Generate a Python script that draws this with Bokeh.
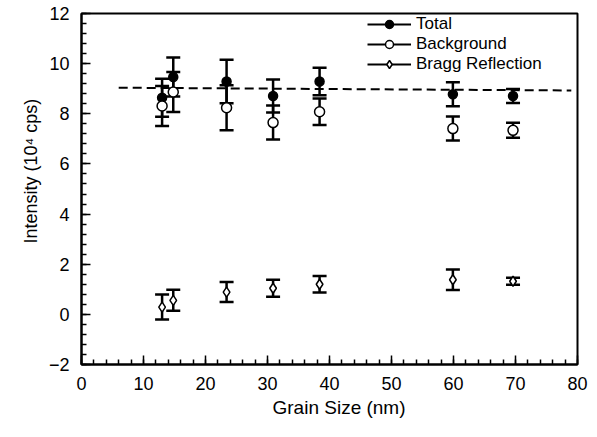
from bokeh.plotting import figure
from bokeh.models import (ColumnDataSource, Whisker, TeeHead, Range1d, SingleIntervalTicker,
                          Legend, LegendItem, Title)
from bokeh.embed import file_html
from bokeh.resources import INLINE

# Grain size (nm) of each sample
grain_size = [13.0, 14.8, 23.4, 30.9, 38.4, 59.9, 69.6]

# Intensities in units of 10^4 cps, with their uncertainties
total = [8.64, 9.47, 9.29, 8.71, 9.29, 8.78, 8.71]
total_err = [0.76, 0.78, 0.87, 0.66, 0.55, 0.48, 0.28]

background = [8.31, 8.87, 8.24, 7.65, 8.08, 7.41, 7.34]
background_err = [0.80, 0.80, 0.90, 0.68, 0.53, 0.48, 0.30]

bragg = [0.29, 0.56, 0.89, 1.04, 1.20, 1.38, 1.32]
bragg_err = [0.50, 0.42, 0.40, 0.34, 0.33, 0.41, 0.14]

# Dashed guide through the total intensity
fit_x = [6.0, 79.0]
fit_y = [9.04, 8.93]

FONT = "Liberation Sans"
NAN = float("nan")

p = figure(width=597, height=437, output_backend="svg", toolbar_location=None,
           x_range=Range1d(0, 80), y_range=Range1d(-2, 12),
           min_border_left=81, min_border_right=20, min_border_top=13, min_border_bottom=73)
p.xgrid.visible = False
p.ygrid.visible = False
p.outline_line_color = "black"
p.outline_line_width = 2
p.background_fill_color = "white"
p.border_fill_color = "white"

p.xaxis.ticker = SingleIntervalTicker(interval=10, num_minor_ticks=5)
p.yaxis.ticker = SingleIntervalTicker(interval=2, num_minor_ticks=5)
for ax in (p.xaxis[0], p.yaxis[0]):
    ax.axis_line_width = 2
    ax.axis_line_color = "black"
    ax.major_tick_in = 9
    ax.major_tick_out = 0
    ax.minor_tick_in = 5
    ax.minor_tick_out = 0
    ax.major_tick_line_width = 1.5
    ax.minor_tick_line_width = 1.5
    ax.major_label_text_font = FONT
    ax.major_label_text_font_size = "18px"
    ax.major_label_text_color = "black"
p.yaxis.major_label_standoff = 12
p.xaxis.major_label_standoff = 12

# axis titles, placed by an offset from the start of their side panels
p.add_layout(Title(text="Intensity (10\u2074 cps)", align="left", offset=121, standoff=9,
                   text_font=FONT, text_font_size="18px", text_font_style="normal",
                   text_color="black"), "left")
p.add_layout(Title(text="Grain Size (nm)", align="left", offset=191, standoff=5,
                   text_font=FONT, text_font_size="19px", text_font_style="normal",
                   text_color="black"), "below")

# dashed guide line
p.line(fit_x, fit_y, line_color="black", line_width=2, line_dash="9 5")


def add_series(y, err, marker, size, fill):
    lo = [v - e for v, e in zip(y, err)]
    hi = [v + e for v, e in zip(y, err)]
    src = ColumnDataSource(dict(x=grain_size, y=y, lo=lo, hi=hi))
    w = Whisker(base="x", upper="hi", lower="lo", source=src, dimension="height",
                line_color="black", line_width=2.5, level="underlay",
                upper_head=TeeHead(size=14, line_width=2.5, line_color="black"),
                lower_head=TeeHead(size=14, line_width=2.5, line_color="black"))
    p.add_layout(w)
    p.scatter("x", "y", source=src, marker=marker, size=size,
              fill_color=fill, line_color="black", line_width=1.5)


add_series(total, total_err, "circle", 9, "black")
add_series(background, background_err, "circle", 10, "white")
add_series(bragg, bragg_err, "diamond", 10, "white")

# legend entries: a short solid line with the marker in its middle
items = []
for label, marker, size, fill in [("Total", "circle", 9, "black"),
                                  ("Background", "circle", 9, "white"),
                                  ("Bragg Reflection", "diamond", 9, "white")]:
    lr = p.line(x=[NAN], y=[NAN], line_color="black", line_width=2)
    sr = p.scatter(x=[NAN], y=[NAN], marker=marker, size=size, fill_color=fill,
                   line_color="black", line_width=1.5)
    items.append(LegendItem(label=label, renderers=[lr, sr]))

legend = Legend(items=items, location=(286, 290), padding=0, margin=0, spacing=0,
                glyph_width=44, glyph_height=20, label_height=20, label_standoff=5,
                label_text_font=FONT, label_text_font_size="17px", label_text_color="black",
                border_line_color=None, background_fill_alpha=0)
p.add_layout(legend)

open("out.html", "w").write(file_html(p, INLINE))
